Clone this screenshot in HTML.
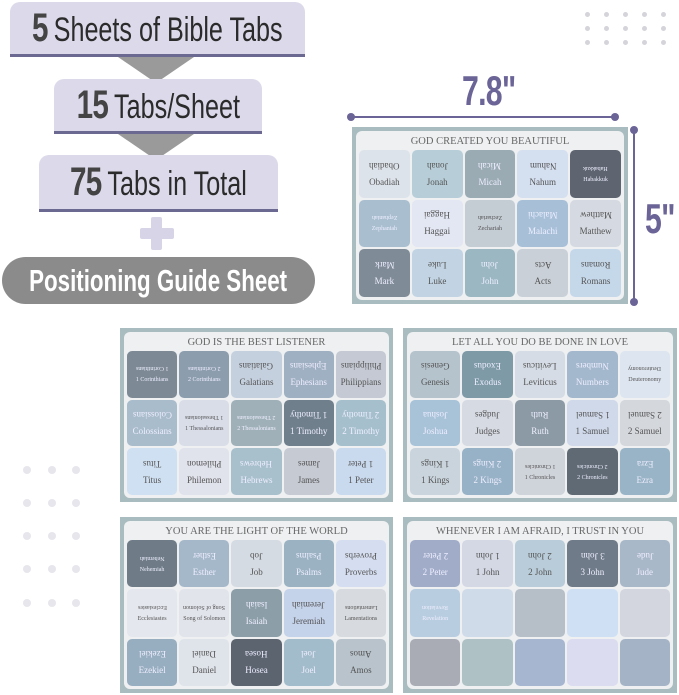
<!DOCTYPE html>
<html><head><meta charset="utf-8"><style>
*{margin:0;padding:0;box-sizing:border-box}
body{width:679px;height:695px;background:#fff;position:relative;overflow:hidden;font-family:"Liberation Sans",sans-serif}
.a{position:absolute}
.box{position:absolute;background:#dcdaea;border-bottom:3px solid #6b6892;border-radius:10px 10px 0 0;color:#2b2b2b;white-space:nowrap;display:flex;align-items:center;justify-content:center}
.box div{transform:scaleX(.74);display:flex;align-items:baseline;flex-shrink:0}
.box b{font-size:40px;color:#444;margin-right:8px;letter-spacing:-1px}
.box span{font-size:34px}
.tri{position:absolute;width:0;height:0;border-left:38px solid transparent;border-right:38px solid transparent;border-top:26px solid #9a9a9a}
.dot{position:absolute;width:5px;height:5px;border-radius:50%;background:#d4d4da}
.ldot{position:absolute;width:8px;height:8px;border-radius:50%;background:#e6e6ec}
.sheet{position:absolute;background:#a9bcbf;padding:4px;display:flex;flex-direction:column}
.inner{background:#eef0f2;flex:1;display:flex;flex-direction:column;padding:2px 3px 3px;border-radius:6px}
.tt{height:17px;text-align:center;font-family:"Liberation Serif",serif;font-size:10.5px;color:#666;line-height:17px;white-space:nowrap}
.g{flex:1;display:grid;grid-template-columns:repeat(5,1fr);grid-template-rows:repeat(3,1fr);gap:2px}
.c{border-radius:5px;display:flex;flex-direction:column;align-items:center;justify-content:center;font-family:"Liberation Serif",serif;font-size:9px;color:#555;white-space:nowrap;overflow:hidden;gap:6px}
.c i{font-style:normal;transform:rotate(180deg);display:block}
.c em{font-style:normal;display:block}
.s{font-size:6px}
.w{color:#eef}
.dim{position:absolute;font-weight:bold;font-size:42px;color:#6b6496;transform:scaleX(.72);transform-origin:left top;letter-spacing:-1px}
</style></head><body>

<div class="box" style="left:10px;top:2px;width:295px;height:55px"><div><b>5</b><span>Sheets of Bible Tabs</span></div></div>
<div class="tri" style="left:118px;top:57px"></div>
<div class="box" style="left:54px;top:79px;width:208px;height:55px"><div><b>15</b><span>Tabs/Sheet</span></div></div>
<div class="tri" style="left:118px;top:134px"></div>
<div class="box" style="left:39px;top:155px;width:239px;height:57px"><div><b>75</b><span>Tabs in Total</span></div></div>
<div class="a" style="left:151px;top:217px;width:11px;height:33px;background:#d6d4e6;border-radius:2px"></div>
<div class="a" style="left:140px;top:228px;width:34px;height:11px;background:#d6d4e6;border-radius:2px"></div>
<div class="a" style="left:2px;top:257px;width:313px;height:47px;background:#8b8b8b;border-radius:24px;color:#fff;font-weight:bold;font-size:31px;line-height:47px;white-space:nowrap;display:flex;justify-content:center"><div style="transform:scaleX(.72);flex-shrink:0">Positioning Guide Sheet</div></div>

<div class="dot" style="left:585px;top:12px"></div><div class="dot" style="left:604px;top:12px"></div><div class="dot" style="left:623px;top:12px"></div><div class="dot" style="left:642px;top:12px"></div><div class="dot" style="left:661px;top:12px"></div>
<div class="dot" style="left:585px;top:26px"></div><div class="dot" style="left:604px;top:26px"></div><div class="dot" style="left:623px;top:26px"></div><div class="dot" style="left:642px;top:26px"></div><div class="dot" style="left:661px;top:26px"></div>
<div class="dot" style="left:585px;top:40px"></div><div class="dot" style="left:604px;top:40px"></div><div class="dot" style="left:623px;top:40px"></div><div class="dot" style="left:642px;top:40px"></div><div class="dot" style="left:661px;top:40px"></div>

<div class="ldot" style="left:23px;top:466px"></div><div class="ldot" style="left:48px;top:466px"></div><div class="ldot" style="left:72px;top:466px"></div>
<div class="ldot" style="left:23px;top:499px"></div><div class="ldot" style="left:48px;top:499px"></div><div class="ldot" style="left:72px;top:499px"></div>
<div class="ldot" style="left:23px;top:532px"></div><div class="ldot" style="left:48px;top:532px"></div><div class="ldot" style="left:72px;top:532px"></div>
<div class="ldot" style="left:23px;top:565px"></div><div class="ldot" style="left:48px;top:565px"></div><div class="ldot" style="left:72px;top:565px"></div>
<div class="ldot" style="left:23px;top:599px"></div><div class="ldot" style="left:48px;top:599px"></div><div class="ldot" style="left:72px;top:599px"></div>

<div class="dim" style="left:462px;top:67px">7.8"</div>
<div class="a" style="left:352px;top:116px;width:262px;height:2px;background:#6b6496"></div>
<div class="a" style="left:347px;top:113px;width:8px;height:8px;border-radius:50%;background:#6b6496"></div>
<div class="a" style="left:611px;top:113px;width:8px;height:8px;border-radius:50%;background:#6b6496"></div>
<div class="a" style="left:633px;top:130px;width:2px;height:172px;background:#6b6496"></div>
<div class="a" style="left:630px;top:126px;width:8px;height:8px;border-radius:50%;background:#6b6496"></div>
<div class="a" style="left:630px;top:298px;width:8px;height:8px;border-radius:50%;background:#6b6496"></div>
<div class="dim" style="left:645px;top:195px">5"</div>

<div class="sheet" style="left:352px;top:127px;width:276px;height:177px"><div class="inner">
<div class="tt">GOD CREATED YOU BEAUTIFUL</div><div class="g">
<div class="c" style="background:#dde3ea"><i>Obadiah</i><em>Obadiah</em></div>
<div class="c" style="background:#b7ced8"><i>Jonah</i><em>Jonah</em></div>
<div class="c w" style="background:#9aabb4"><i>Micah</i><em>Micah</em></div>
<div class="c" style="background:#d4dff0"><i>Nahum</i><em>Nahum</em></div>
<div class="c w s" style="background:#5e6570"><i>Habakkuk</i><em>Habakkuk</em></div>
<div class="c w s" style="background:#a9bfd0"><i>Zephaniah</i><em>Zephaniah</em></div>
<div class="c" style="background:#e3e6f3"><i>Haggai</i><em>Haggai</em></div>
<div class="c s" style="background:#c4ccd4"><i>Zechariah</i><em>Zechariah</em></div>
<div class="c w" style="background:#a7c0d8"><i>Malachi</i><em>Malachi</em></div>
<div class="c" style="background:#d5d9e1"><i>Matthew</i><em>Matthew</em></div>
<div class="c w" style="background:#7f8b97"><i>Mark</i><em>Mark</em></div>
<div class="c" style="background:#c2d4e4"><i>Luke</i><em>Luke</em></div>
<div class="c w" style="background:#9ab7c2"><i>John</i><em>John</em></div>
<div class="c" style="background:#c9d0d8"><i>Acts</i><em>Acts</em></div>
<div class="c" style="background:#c5d8ea"><i>Romans</i><em>Romans</em></div>
</div></div></div>

<div class="sheet" style="left:120px;top:328px;width:273px;height:174px"><div class="inner">
<div class="tt">GOD IS THE BEST LISTENER</div><div class="g">
<div class="c w s" style="background:#7d8a96"><i>1 Corinthians</i><em>1 Corinthians</em></div>
<div class="c w s" style="background:#8c9dae"><i>2 Corinthians</i><em>2 Corinthians</em></div>
<div class="c" style="background:#c5d0de"><i>Galatians</i><em>Galatians</em></div>
<div class="c w" style="background:#9fb0c2"><i>Ephesians</i><em>Ephesians</em></div>
<div class="c" style="background:#c4c9d3"><i>Philippians</i><em>Philippians</em></div>
<div class="c w" style="background:#a9bccb"><i>Colossians</i><em>Colossians</em></div>
<div class="c s" style="background:#d9dde8"><i>1 Thessalonians</i><em>1 Thessalonians</em></div>
<div class="c w s" style="background:#9fb0b8"><i>2 Thessalonians</i><em>2 Thessalonians</em></div>
<div class="c w" style="background:#6f7f8c"><i>1 Timothy</i><em>1 Timothy</em></div>
<div class="c w" style="background:#a5c0cc"><i>2 Timothy</i><em>2 Timothy</em></div>
<div class="c" style="background:#cfe0f2"><i>Titus</i><em>Titus</em></div>
<div class="c" style="background:#e0e2ec"><i>Philemon</i><em>Philemon</em></div>
<div class="c w" style="background:#a8c0cc"><i>Hebrews</i><em>Hebrews</em></div>
<div class="c" style="background:#c6cad3"><i>James</i><em>James</em></div>
<div class="c" style="background:#c9d9ee"><i>1 Peter</i><em>1 Peter</em></div>
</div></div></div>

<div class="sheet" style="left:403px;top:328px;width:274px;height:174px"><div class="inner">
<div class="tt">LET ALL YOU DO BE DONE IN LOVE</div><div class="g">
<div class="c" style="background:#b5c3cc"><i>Genesis</i><em>Genesis</em></div>
<div class="c w" style="background:#7d9aa6"><i>Exodus</i><em>Exodus</em></div>
<div class="c" style="background:#d5dce5"><i>Leviticus</i><em>Leviticus</em></div>
<div class="c w" style="background:#a4b8cd"><i>Numbers</i><em>Numbers</em></div>
<div class="c s" style="background:#dde5f0"><i>Deuteronomy</i><em>Deuteronomy</em></div>
<div class="c w" style="background:#a8c2d8"><i>Joshua</i><em>Joshua</em></div>
<div class="c" style="background:#d6dae3"><i>Judges</i><em>Judges</em></div>
<div class="c w" style="background:#8b9aa5"><i>Ruth</i><em>Ruth</em></div>
<div class="c" style="background:#cfd9ea"><i>1 Samuel</i><em>1 Samuel</em></div>
<div class="c" style="background:#d4d7dc"><i>2 Samuel</i><em>2 Samuel</em></div>
<div class="c" style="background:#c9d4dc"><i>1 Kings</i><em>1 Kings</em></div>
<div class="c w" style="background:#97b1c6"><i>2 Kings</i><em>2 Kings</em></div>
<div class="c s" style="background:#cfd3da"><i>1 Chronicles</i><em>1 Chronicles</em></div>
<div class="c w s" style="background:#5f6a74"><i>2 Chronicles</i><em>2 Chronicles</em></div>
<div class="c w" style="background:#99b4c6"><i>Ezra</i><em>Ezra</em></div>
</div></div></div>

<div class="sheet" style="left:120px;top:517px;width:273px;height:176px"><div class="inner">
<div class="tt">YOU ARE THE LIGHT OF THE WORLD</div><div class="g">
<div class="c w s" style="background:#6f7c88"><i>Nehemiah</i><em>Nehemiah</em></div>
<div class="c w" style="background:#a5b8ca"><i>Esther</i><em>Esther</em></div>
<div class="c" style="background:#d5dbe3"><i>Job</i><em>Job</em></div>
<div class="c w" style="background:#9ab2c2"><i>Psalms</i><em>Psalms</em></div>
<div class="c" style="background:#d5def0"><i>Proverbs</i><em>Proverbs</em></div>
<div class="c s" style="background:#e4e7ee"><i>Ecclesiastes</i><em>Ecclesiastes</em></div>
<div class="c s" style="background:#e2e4ec"><i>Song of Solomon</i><em>Song of Solomon</em></div>
<div class="c w" style="background:#8c9ea8"><i>Isaiah</i><em>Isaiah</em></div>
<div class="c" style="background:#c4d2ea"><i>Jeremiah</i><em>Jeremiah</em></div>
<div class="c s" style="background:#d7dade"><i>Lamentations</i><em>Lamentations</em></div>
<div class="c w" style="background:#97aec0"><i>Ezekiel</i><em>Ezekiel</em></div>
<div class="c" style="background:#dfe3ea"><i>Daniel</i><em>Daniel</em></div>
<div class="c w" style="background:#5c6470"><i>Hosea</i><em>Hosea</em></div>
<div class="c w" style="background:#a2bccb"><i>Joel</i><em>Joel</em></div>
<div class="c" style="background:#b8c3cc"><i>Amos</i><em>Amos</em></div>
</div></div></div>

<div class="sheet" style="left:403px;top:517px;width:274px;height:176px"><div class="inner">
<div class="tt">WHENEVER I AM AFRAID, I TRUST IN YOU</div><div class="g">
<div class="c w" style="background:#a0acc8"><i>2 Peter</i><em>2 Peter</em></div>
<div class="c" style="background:#d4d8e4"><i>1 John</i><em>1 John</em></div>
<div class="c" style="background:#b9ccd9"><i>2 John</i><em>2 John</em></div>
<div class="c w" style="background:#6f7b88"><i>3 John</i><em>3 John</em></div>
<div class="c w" style="background:#a9b8c8"><i>Jude</i><em>Jude</em></div>
<div class="c w s" style="background:#b8cde0"><i>Revelation</i><em>Revelation</em></div>
<div class="c" style="background:#cfdbe9"></div>
<div class="c" style="background:#b6bec8"></div>
<div class="c" style="background:#cfe0f5"></div>
<div class="c" style="background:#d3d6df"></div>
<div class="c" style="background:#a9abb5"></div>
<div class="c" style="background:#aec2c5"></div>
<div class="c" style="background:#a7b6d0"></div>
<div class="c" style="background:#dcdcf0"></div>
<div class="c" style="background:#a4b4c6"></div>
</div></div></div>

</body></html>
